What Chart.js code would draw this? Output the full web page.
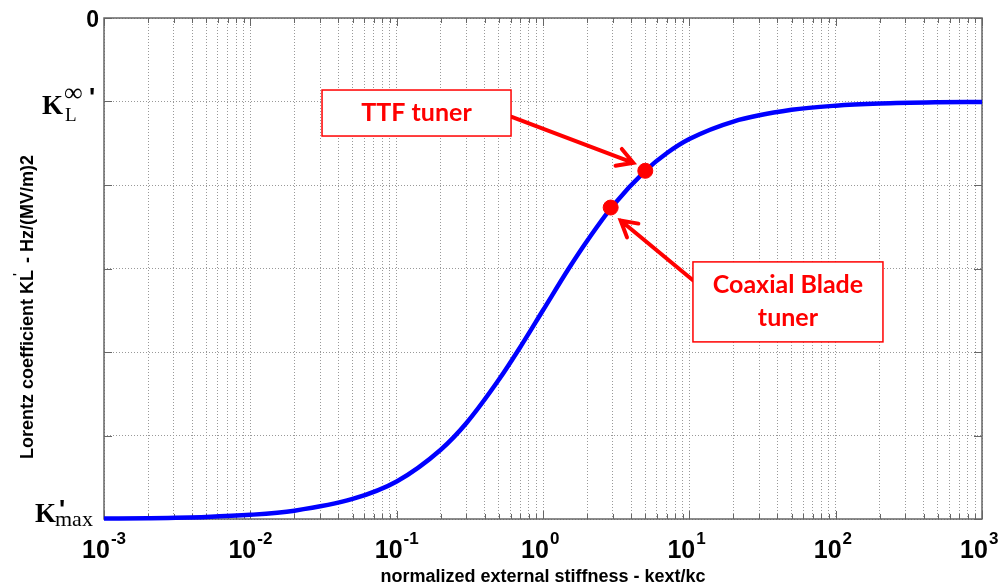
<!DOCTYPE html>
<html>
<head>
<meta charset="utf-8">
<script src="https://cdn.jsdelivr.net/npm/chart.js@4.4.0/dist/chart.umd.min.js"></script>
<style>
  html, body { margin: 0; padding: 0; background: #fff; }
  #wrap { width: 1003px; height: 587px; }
</style>
</head>
<body>
<div id="wrap"><canvas id="chartLorentz"></canvas></div>
<script>
/* Lorentz coefficient vs normalized stiffness */

// curve (y in grid units: 0 at top, Kmax at -6)
const stiffness = [0.001, 0.002, 0.005, 0.01, 0.02, 0.05, 0.1, 0.2, 0.3, 0.5, 0.7, 1, 1.5, 2, 3, 5, 7, 10, 20, 50, 100, 200, 500, 1000];
const lorentz = [-5.995, -5.99, -5.975, -5.95, -5.9, -5.76, -5.55, -5.17, -4.85, -4.33, -3.94, -3.5, -3.0, -2.67, -2.25, -1.83, -1.62, -1.45, -1.24, -1.1, -1.05, -1.025, -1.01, -1.005];

// tuner points
const tunerNames = [["TTF tuner"], ["Coaxial Blade", "tuner"]];
const tunerX = [5, 2.9];
const tunerY = [-1.83, -2.27];

// axis ticks
const xExponents = [-3, -2, -1, 0, 1, 2, 3];
const xMinor = [2, 3, 4, 5, 6, 7, 8, 9];
const yTicks = [0, -1, -2, -3, -4, -5, -6];

// label boxes (centre in data units, size in px) and arrow tip offset from the point
const callouts = [
  { cx: 0.1367, cy: -1.138, w: 189, h: 46, from: [1, 0.08], tip: [-12, -8] },
  { cx: 47.2, cy: -3.40, w: 190, h: 80, from: [-1, -0.27], tip: [10, 13] }
];

const xTickValues = [];
xExponents.forEach(function (e, i) {
  xTickValues.push(Math.pow(10, e));
  if (i < xExponents.length - 1) {
    xMinor.forEach(function (m) { xTickValues.push(m * Math.pow(10, e)); });
  }
});

function drawArrow(ctx, x1, y1, x2, y2) {
  const a = Math.atan2(y2 - y1, x2 - x1);
  const len = 18, spread = 0.52;
  ctx.beginPath();
  ctx.moveTo(x1, y1);
  ctx.lineTo(x2, y2);
  ctx.moveTo(x2 - len * Math.cos(a - spread), y2 - len * Math.sin(a - spread));
  ctx.lineTo(x2, y2);
  ctx.lineTo(x2 - len * Math.cos(a + spread), y2 - len * Math.sin(a + spread));
  ctx.stroke();
}

const decorations = {
  id: 'decorations',
  beforeDatasetsDraw(chart) {
    const ctx = chart.ctx, a = chart.chartArea;
    const xs = chart.scales.x, ys = chart.scales.y;
    ctx.save();
    ctx.strokeStyle = '#666';
    ctx.lineWidth = 1;
    xTickValues.forEach(function (v) {
      const px = Math.round(xs.getPixelForValue(v)) + 0.5;
      const major = xExponents.indexOf(Math.round(Math.log10(v) * 1000) / 1000) >= 0;
      const l = major ? 8 : 5;
      ctx.beginPath();
      ctx.moveTo(px, a.bottom); ctx.lineTo(px, a.bottom - l);
      ctx.moveTo(px, a.top); ctx.lineTo(px, a.top + l);
      ctx.stroke();
    });
    yTicks.forEach(function (v) {
      const py = Math.round(ys.getPixelForValue(v)) + 0.5;
      ctx.beginPath();
      ctx.moveTo(a.left, py); ctx.lineTo(a.left + 8, py);
      ctx.moveTo(a.right, py); ctx.lineTo(a.right - 8, py);
      ctx.stroke();
    });
    ctx.lineWidth = 1.5;
    ctx.strokeRect(a.left, a.top, a.right - a.left, a.bottom - a.top);
    ctx.restore();
  },
  afterDatasetsDraw(chart) {
    const ctx = chart.ctx;
    const xs = chart.scales.x, ys = chart.scales.y;
    ctx.save();
    callouts.forEach(function (c, i) {
      const cx = xs.getPixelForValue(c.cx), cy = ys.getPixelForValue(c.cy);
      const px = xs.getPixelForValue(tunerX[i]), py = ys.getPixelForValue(tunerY[i]);
      ctx.strokeStyle = '#ff0000';
      ctx.lineWidth = 4;
      ctx.lineCap = 'round';
      drawArrow(ctx, cx + c.from[0] * c.w / 2, cy + c.from[1] * c.h, px + c.tip[0], py + c.tip[1]);
      ctx.fillStyle = '#fff';
      ctx.fillRect(cx - c.w / 2, cy - c.h / 2, c.w, c.h);
      ctx.lineWidth = 1.5;
      ctx.strokeRect(cx - c.w / 2, cy - c.h / 2, c.w, c.h);
      ctx.fillStyle = '#ff0000';
      ctx.font = 'bold 25px Lato';
      ctx.textAlign = 'center';
      ctx.textBaseline = 'middle';
      const lines = tunerNames[i];
      lines.forEach(function (t, k) {
        ctx.fillText(t, cx, cy + (k - (lines.length - 1) / 2) * 33);
      });
    });
    ctx.restore();
  },
  afterDraw(chart) {
    const ctx = chart.ctx, a = chart.chartArea;
    const xs = chart.scales.x, ys = chart.scales.y;
    ctx.save();
    ctx.fillStyle = '#000';
    ctx.textBaseline = 'alphabetic';
    ctx.textAlign = 'left';

    // x tick labels 10^n
    xExponents.forEach(function (e) {
      const px = xs.getPixelForValue(Math.pow(10, e));
      ctx.font = 'bold 25px "Liberation Sans"';
      const w = ctx.measureText('10').width;
      const left = px - 8 - w / 2;
      ctx.fillText('10', left, 558);
      ctx.font = 'bold 17px "Liberation Sans"';
      ctx.fillText(String(e), left + w + 1, 544);
    });

    // y tick labels
    const y0 = ys.getPixelForValue(yTicks[0]);
    ctx.font = 'bold 23px "Liberation Sans"';
    ctx.textAlign = 'right';
    ctx.fillText('0', a.left - 5, y0 + 9);
    ctx.textAlign = 'left';

    const yInf = ys.getPixelForValue(yTicks[1]);
    ctx.font = 'bold 27px "Liberation Serif"';
    ctx.fillText('K', 42, yInf + 12);
    ctx.font = '19px "Liberation Serif"';
    ctx.fillText('L', 65, yInf + 19);
    ctx.font = '26px "Liberation Serif"';
    ctx.fillText('\u221E', 64, yInf - 1);
    ctx.font = 'bold 26px "Liberation Sans"';
    ctx.fillText("'", 89, yInf + 4);

    const yMax = ys.getPixelForValue(yTicks[6]);
    ctx.font = 'bold 27px "Liberation Serif"';
    ctx.fillText('K', 35, yMax + 3);
    ctx.font = 'bold 26px "Liberation Sans"';
    ctx.fillText("'", 59, yMax - 1);
    ctx.font = '22px "Liberation Serif"';
    ctx.fillText('max', 55, yMax + 7);

    // axis titles
    ctx.font = 'bold 18px "Liberation Sans"';
    ctx.textAlign = 'center';
    ctx.fillText('normalized external stiffness - kext/kc', (a.left + a.right) / 2, 582);

    ctx.translate(33, 307);
    ctx.rotate(-Math.PI / 2);
    const p1 = 'Lorentz coefficient KL', p2 = ' - Hz/(MV/m)2';
    ctx.font = 'bold 18px "Liberation Sans"';
    const w1 = ctx.measureText(p1).width, w2 = ctx.measureText(p2).width;
    const tot = w1 + 2 + w2;
    ctx.textAlign = 'left';
    ctx.fillText(p1, -tot / 2, 0);
    ctx.fillText(p2, -tot / 2 + w1 + 2, 0);
    ctx.font = 'bold 12px "Liberation Sans"';
    ctx.fillText("'", -tot / 2 + w1 - 6, -11);
    ctx.restore();
  }
};

const chartLorentz = new Chart(document.getElementById('chartLorentz'), {
  type: 'scatter',
  data: {
    datasets: [
      {
        label: 'tuners',
        data: tunerX.map(function (x, i) { return { x: x, y: tunerY[i] }; }),
        backgroundColor: '#ff0000',
        borderColor: '#ff0000',
        pointRadius: 7.5,
        showLine: false
      },
      {
        label: 'K',
        data: stiffness.map(function (x, i) { return { x: x, y: lorentz[i] }; }),
        showLine: true,
        borderColor: '#0000ff',
        borderWidth: 4.5,
        pointRadius: 0,
        cubicInterpolationMode: 'monotone',
        clip: false
      }
    ]
  },
  options: {
    responsive: true,
    maintainAspectRatio: false,
    animation: false,
    layout: { padding: { left: 104, right: 21, top: 18, bottom: 68 } },
    plugins: {
      legend: { display: false },
      tooltip: { enabled: false }
    },
    scales: {
      x: {
        type: 'logarithmic',
        min: 0.001,
        max: 1000,
        afterBuildTicks: function (scale) {
          scale.ticks = xTickValues.map(function (v) { return { value: v }; });
        },
        ticks: { display: false, autoSkip: false },
        grid: { color: '#999', lineWidth: 1, drawTicks: false },
        border: { display: false, dash: [1, 2] }
      },
      y: {
        type: 'linear',
        min: -6,
        max: 0,
        ticks: { display: false, stepSize: 1 },
        grid: { color: '#999', lineWidth: 1, drawTicks: false },
        border: { display: false, dash: [1, 2] }
      }
    }
  },
  plugins: [decorations]
});
</script>
</body>
</html>
